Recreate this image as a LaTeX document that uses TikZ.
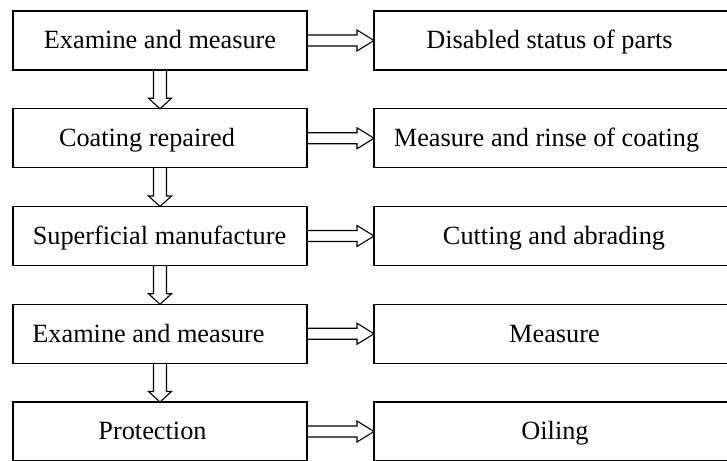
\documentclass[tikz,border=0pt]{standalone}
\usepackage{fontspec}
\setmainfont{Liberation Serif}
\usetikzlibrary{calc}

\begin{document}
\begin{tikzpicture}[x=1pt, y=-1pt, line width=1.1pt, line join=miter,
  box/.style={draw, minimum width=294pt, minimum height=59pt, inner sep=0pt, outer sep=0pt},
  widebox/.style={box, minimum width=361pt},
  txt/.style={inner sep=0pt, text height=17.4pt, text depth=0.8pt, font=\fontsize{26.3}{30}\selectfont}]
  \useasboundingbox (0,0) rectangle (727,460);
  % left column: steps
  \foreach \n/\y/\dx/\t in {1/40.5/0/Examine and measure, 2/138.25/-13/Coating repaired,
      3/236/-0.5/Superficial manufacture, 4/333.75/-11.5/Examine and measure, 5/431.5/-7.5/Protection} {
    \node[box] (l\n) at (160,\y) {};
    \node[txt] (lt\n) at ($(l\n)+(\dx,0)$) {\t};
  }
  % right column: what is done
  \foreach \n/\y/\dx/\t in {1/40.5/-5/Disabled status of parts, 2/138.25/-8/Measure and rinse of coating,
      3/236/-0.5/Cutting and abrading, 4/333.75/0/Measure, 5/431.5/0.5/Oiling} {
    \node[widebox] (r\n) at (554.5,\y) {};
    \node[txt] (rt\n) at ($(r\n)+(\dx,0)$) {\t};
  }
  % hollow arrows
  \foreach \n in {1,...,5}
    \draw ($(l\n.east)+(0,-5.5)$) -- ($(r\n.west)+(-17,-5.5)$) -- ($(r\n.west)+(-17,-10.5)$) -- (r\n.west)
      -- ($(r\n.west)+(-17,10.5)$) -- ($(r\n.west)+(-17,5.5)$) -- ($(l\n.east)+(0,5.5)$);
  \foreach \a/\b in {1/2,2/3,3/4,4/5}
    \draw ($(l\a.south)+(-6.5,0)$) -- ($(l\b.north)+(-6.5,-10.5)$) -- ($(l\b.north)+(-11.5,-10.5)$) -- (l\b.north)
      -- ($(l\b.north)+(11.5,-10.5)$) -- ($(l\b.north)+(6.5,-10.5)$) -- ($(l\a.south)+(6.5,0)$);
\end{tikzpicture}
\end{document}
